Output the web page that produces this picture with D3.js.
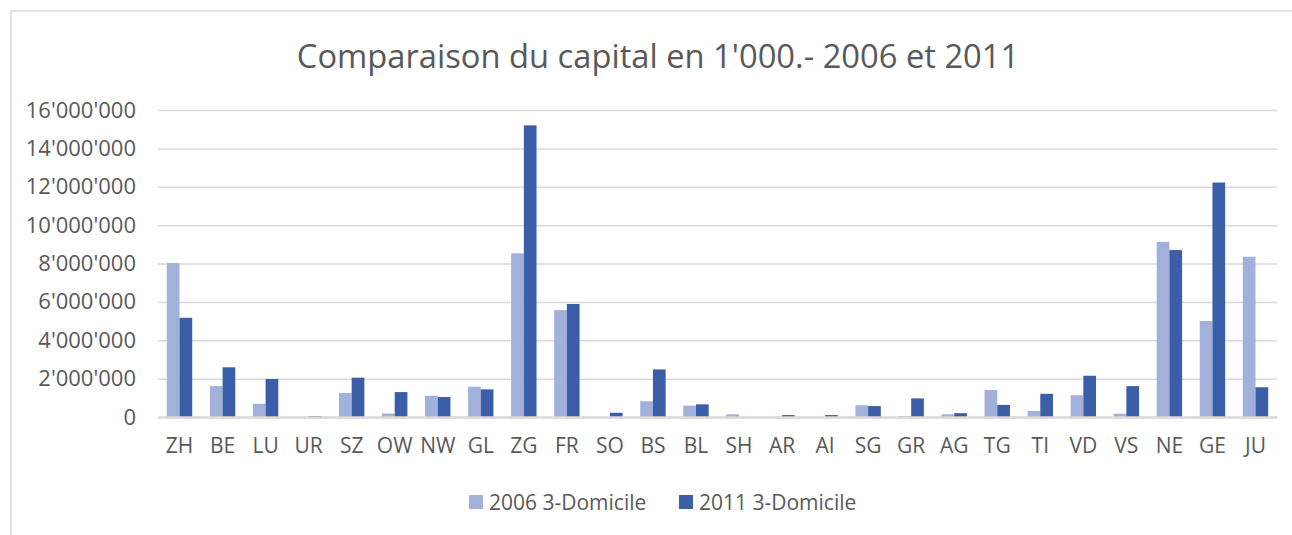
<!DOCTYPE html>
<html>
<head>
<meta charset="utf-8">
<script src="https://cdn.jsdelivr.net/npm/d3@7"></script>
<style>
    body { margin: 0; background: #fff; }
    text { font-family: "Open Sans", sans-serif; fill: #595959; }
</style>
</head>
<body>
<svg id="chart"></svg>
<script>
// cantons, in the order of the original sheet
const cantons = ["ZH", "BE", "LU", "UR", "SZ", "OW", "NW", "GL", "ZG", "FR", "SO", "BS", "BL",
    "SH", "AR", "AI", "SG", "GR", "AG", "TG", "TI", "VD", "VS", "NE", "GE", "JU"];

// capital in 1'000.-
const values2006 = [8020000, 1610000, 690000, 0, 1250000, 180000, 1110000, 1580000, 8530000, 5570000, 0, 820000, 590000,
    140000, 0, 0, 610000, 50000, 140000, 1410000, 310000, 1130000, 170000, 9130000, 5000000, 8350000];
const values2011 = [5170000, 2590000, 1980000, 50000, 2050000, 1300000, 1040000, 1440000, 15200000, 5890000, 220000, 2480000, 660000,
    0, 100000, 100000, 570000, 970000, 200000, 630000, 1210000, 2150000, 1610000, 8700000, 12220000, 1550000];

const seriesNames = ["2006 3-Domicile", "2011 3-Domicile"];
const seriesColors = ["#a1b1dc", "#3a5fa8"];
const yTicks = [0, 2000000, 4000000, 6000000, 8000000, 10000000, 12000000, 14000000, 16000000];

const width = 1292, height = 535;
const plotLeft = 158, plotRight = 1277, plotTop = 110, plotBottom = 417;

// swiss style thousands separator
const fmt = v => d3.format(",")(v).replace(/,/g, "'");

let svg = d3.select("#chart")
    .attr("width", width)
    .attr("height", height);

// chart area border (cut off on right & bottom)
svg.append("rect")
    .attr("x", 11).attr("y", 11)
    .attr("width", width + 20).attr("height", height + 20)
    .attr("fill", "#fff")
    .attr("stroke", "#d9d9d9")
    .attr("stroke-width", 1.5);

svg.append("text")
    .attr("x", 658)
    .attr("y", 68)
    .attr("text-anchor", "middle")
    .style("font-size", "32.7px")
    .text("Comparaison du capital en 1'000.- 2006 et 2011");

let x0 = d3.scaleBand()
    .domain(cantons)
    .range([plotLeft, plotRight])
    .paddingInner(0.41)
    .paddingOuter(0.205);

let x1 = d3.scaleBand()
    .domain([0, 1])
    .range([0, x0.bandwidth()]);

let y = d3.scaleLinear()
    .domain([0, 16000000])
    .range([plotBottom, plotTop]);

// gridlines + y labels
let yAxis = d3.axisLeft(y)
    .tickValues(yTicks)
    .tickSize(-(plotRight - plotLeft))
    .tickPadding(22)
    .tickFormat(fmt);

let gy = svg.append("g")
    .attr("transform", `translate(${plotLeft},0)`)
    .call(yAxis);
gy.select(".domain").remove();
gy.selectAll(".tick line").attr("stroke", "#d9d9d9").attr("stroke-width", 1.5);
gy.selectAll(".tick text")
    .style("font-size", "22px")
    .style("font-family", "'Open Sans', sans-serif")
    .attr("fill", "#595959");

// bars
let rows = cantons.map((c, i) => ({ canton: c, vals: [values2006[i], values2011[i]] }));

let groups = svg.selectAll("g.canton")
    .data(rows)
    .enter()
        .append("g")
        .attr("class", "canton")
        .attr("transform", d => `translate(${x0(d.canton)},0)`);

groups.selectAll("rect")
    .data(d => d.vals.map((v, s) => ({ s: s, v: v })))
    .enter()
        .append("rect")
            .attr("x", d => x1(d.s))
            .attr("y", d => y(d.v))
            .attr("width", x1.bandwidth())
            .attr("height", d => plotBottom - y(d.v))
            .attr("fill", d => seriesColors[d.s]);

// category axis
let xAxis = d3.axisBottom(x0)
    .tickSize(0)
    .tickPadding(21);

let gx = svg.append("g")
    .attr("transform", `translate(0,${plotBottom})`)
    .call(xAxis);
gx.select(".domain").attr("stroke", "#d9d9d9").attr("stroke-width", 2.5);
gx.selectAll(".tick text")
    .style("font-size", "21px")
    .style("font-family", "'Open Sans', sans-serif")
    .attr("fill", "#595959");

// legend
const legendX = [469, 679];
let legend = svg.selectAll("g.legend")
    .data(seriesNames)
    .enter()
        .append("g")
        .attr("class", "legend")
        .attr("transform", (d, i) => `translate(${legendX[i]},495)`);

legend.append("rect")
    .attr("width", 14).attr("height", 14)
    .attr("fill", (d, i) => seriesColors[i]);

legend.append("text")
    .attr("x", 20)
    .attr("y", 14.5)
    .style("font-size", "21px")
    .text(d => d);
</script>
</body>
</html>
